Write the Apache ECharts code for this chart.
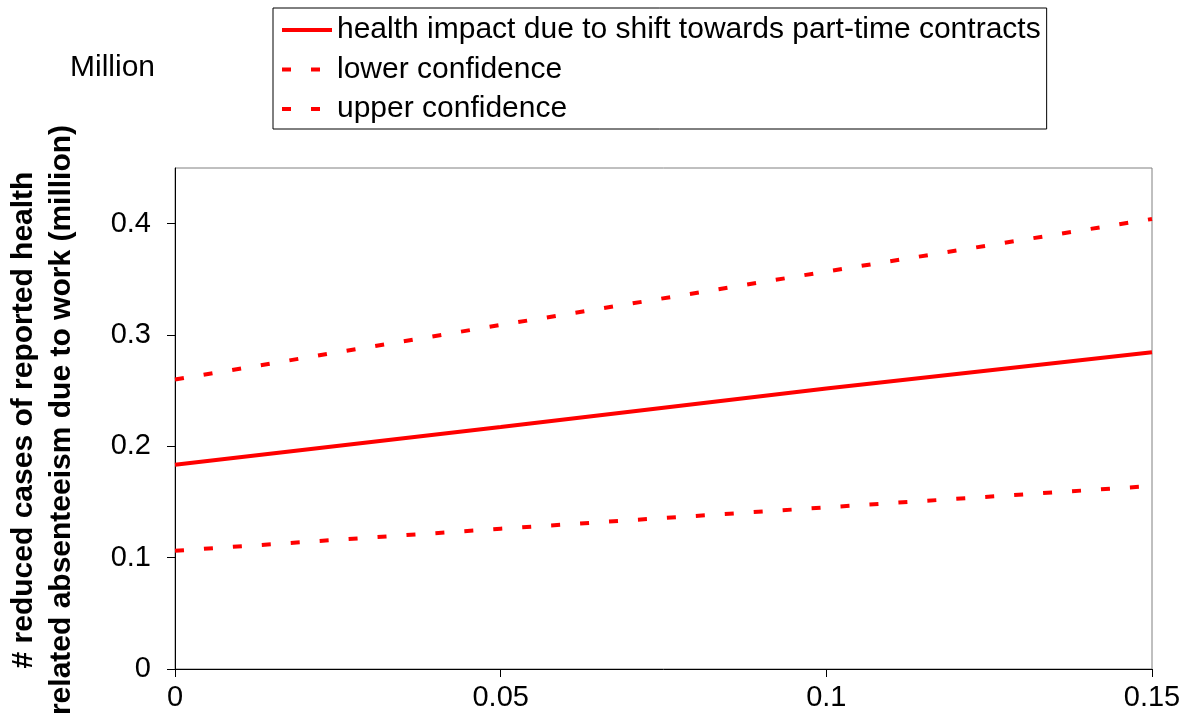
<!DOCTYPE html>
<html>
<head>
<meta charset="utf-8">
<script src="https://cdn.jsdelivr.net/npm/echarts@6/dist/echarts.min.js"></script>
<style>
html,body{margin:0;padding:0;background:#fff;}
#chart{width:1191px;height:727px;}
</style>
</head>
<body>
<div id="chart"></div>
<script>
const xValues = [0, 0.05, 0.1, 0.15];
const healthImpact = [0.1835, 0.2173, 0.2520, 0.2846];
const lowerConfidence = [0.1062, 0.1260, 0.1452, 0.1644];
const upperConfidence = [0.2600, 0.3090, 0.3570, 0.4042];
const seriesNames = ['health impact due to shift towards part-time contracts', 'lower confidence', 'upper confidence'];
const yTicks = [0, 0.1, 0.2, 0.3, 0.4];
const xTicks = [0, 0.05, 0.1, 0.15];
const yTitleLines = ['# reduced cases of reported health', 'related absenteeism due to work (million)'];
const unitLabel = 'Million';

const font = '"Liberation Sans", Arial, sans-serif';
const chart = echarts.init(document.getElementById('chart'), null, {renderer: 'canvas'});
const pair = arr => xValues.map((x, i) => [x, arr[i]]);

chart.setOption({
  animation: false,
  backgroundColor: '#ffffff',
  grid: {left: 175, right: 39, top: 168, bottom: 58, show: true, borderColor: '#808080', borderWidth: 1, backgroundColor: 'transparent'},
  legend: {
    orient: 'vertical', left: 273, top: 8,
    padding: [7, 6, 5, 7],
    borderColor: '#000', borderWidth: 1,
    itemWidth: 50, itemHeight: 14, itemGap: 9.5,
    itemStyle: {opacity: 0},
    lineStyle: {width: 4},
    textStyle: {fontFamily: font, fontSize: 30, color: '#000', lineHeight: 30},
    data: seriesNames
  },
  xAxis: {
    type: 'value', min: 0, max: 0.15, interval: 0.05,
    axisLine: {show: true, onZero: false, lineStyle: {color: '#000', width: 1}},
    axisTick: {show: true, length: 8, inside: false, lineStyle: {color: '#000'}, customValues: xTicks},
    axisLabel: {fontFamily: font, fontSize: 29, color: '#000', margin: 14, customValues: xTicks, formatter: v => String(v)},
    splitLine: {show: false}
  },
  yAxis: {
    type: 'value', min: 0, max: 0.45,
    axisLine: {show: true, onZero: false, lineStyle: {color: '#000', width: 1}},
    axisTick: {show: true, length: 8, inside: false, lineStyle: {color: '#000'}, customValues: yTicks},
    axisLabel: {fontFamily: font, fontSize: 29, color: '#000', margin: 24, customValues: yTicks, formatter: v => String(v)},
    splitLine: {show: false}
  },
  graphic: [
    {type: 'text', x: 70, y: 68, style: {text: unitLabel, font: '30px ' + font, fill: '#000', textVerticalAlign: 'middle'}},
    {type: 'text', x: 24, y: 420, rotation: Math.PI / 2, style: {text: yTitleLines[0], font: 'bold 30px ' + font, fill: '#000', textAlign: 'center', textVerticalAlign: 'middle'}},
    {type: 'text', x: 62, y: 420, rotation: Math.PI / 2, style: {text: yTitleLines[1], font: 'bold 30px ' + font, fill: '#000', textAlign: 'center', textVerticalAlign: 'middle'}}
  ],
  series: [
    {name: seriesNames[0], type: 'line', data: pair(healthImpact), symbol: 'none', lineStyle: {color: '#ff0000', width: 4, type: 'solid'}, itemStyle: {color: '#ff0000'}},
    {name: seriesNames[1], type: 'line', data: pair(lowerConfidence), symbol: 'none', lineStyle: {color: '#ff0000', width: 4, type: [9, 20]}, itemStyle: {color: '#ff0000'}},
    {name: seriesNames[2], type: 'line', data: pair(upperConfidence), symbol: 'none', lineStyle: {color: '#ff0000', width: 4, type: [9, 20]}, itemStyle: {color: '#ff0000'}}
  ]
});
</script>
</body>
</html>
